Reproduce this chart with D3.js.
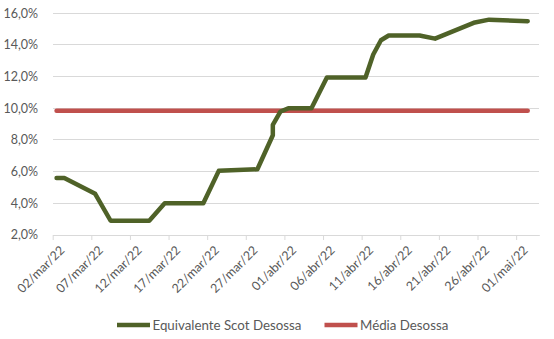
<!DOCTYPE html>
<html><head><meta charset="utf-8">
<script src="https://cdn.jsdelivr.net/npm/d3@7"></script>
<style>
html,body{margin:0;padding:0;background:#fff;}
svg{display:block;font-family:Lato,"Open Sans",sans-serif;}
</style></head>
<body>
<svg id="chart" width="554" height="339"></svg>
<script>
// ---- data ----
const dates = ["2022-03-02","2022-03-03","2022-03-07","2022-03-09","2022-03-14","2022-03-16","2022-03-21","2022-03-23","2022-03-28","2022-03-30","2022-03-30","2022-03-31","2022-04-01","2022-04-04","2022-04-06","2022-04-11","2022-04-12","2022-04-13","2022-04-14","2022-04-18","2022-04-20","2022-04-25","2022-04-27","2022-05-02"];
const scotValues = [5.6,5.6,4.6,2.9,2.9,4.0,4.0,6.05,6.15,8.3,8.95,9.8,10.0,10.0,11.95,11.95,13.4,14.3,14.6,14.6,14.4,15.4,15.6,15.5];
const mediaValue = 9.85;
const seriesNames = ["Equivalente Scot Desossa","Média Desossa"];
const tickDates = ["2022-03-02","2022-03-07","2022-03-12","2022-03-17","2022-03-22","2022-03-27","2022-04-01","2022-04-06","2022-04-11","2022-04-16","2022-04-21","2022-04-26","2022-05-01"];
const yTicks = [2,4,6,8,10,12,14,16];
const monthNames = ["jan","fev","mar","abr","mai","jun","jul","ago","set","out","nov","dez"];

(function () {
const parse = d3.utcParse("%Y-%m-%d");
const svg = d3.select("#chart");
const colGreen = "#4f6228", colRed = "#c0504d", colGrid = "#d9d9d9", colText = "#595959";
const pLeft = 52.7, pRight = 539.3, pTop = 13.3, pBottom = 235;

const x = d3.scaleUtc()
  .domain([parse("2022-03-02"), parse("2022-05-04")])
  .range([pLeft, pRight]);
const y = d3.scaleLinear().domain([2, 16]).range([pBottom, pTop]);

const mid = d => d3.utcHour.offset(parse(d), 12);
const fmtDate = d => d3.utcFormat("%d")(d) + "/" + monthNames[d.getUTCMonth()] + "/" + d3.utcFormat("%y")(d);
const fmtPct = v => v.toFixed(1).replace(".", ",") + "%";

// gridlines
svg.append("g").selectAll("line").data(yTicks).join("line")
  .attr("x1", pLeft).attr("x2", pRight)
  .attr("y1", d => y(d)).attr("y2", d => y(d))
  .attr("stroke", colGrid).attr("stroke-width", 1).attr("shape-rendering", "crispEdges");

// y labels
svg.append("g").selectAll("text").data(yTicks).join("text")
  .attr("x", 38).attr("y", d => y(d)).attr("dy", "0.35em")
  .attr("text-anchor", "end").attr("fill", colText).attr("font-size", 12.5)
  .text(fmtPct);

// x axis
const xAxis = d3.axisBottom(x)
  .tickValues(tickDates.map(parse))
  .tickSize(5).tickSizeOuter(0)
  .tickFormat(fmtDate);
const gx = svg.append("g").attr("transform", `translate(0,${pBottom})`).call(xAxis);
gx.select(".domain").attr("stroke", colGrid);
gx.selectAll(".tick line").attr("stroke", colGrid);
gx.selectAll(".tick text")
  .attr("fill", colText).attr("font-size", 12.5).attr("font-family", "Lato,'Open Sans',sans-serif")
  .attr("text-anchor", "end")
  .attr("transform", "translate(9,13) rotate(-45)")
  .attr("x", 0).attr("y", 0).attr("dy", "0.35em");

// media line
const firstD = mid(dates[0]), lastD = mid(dates[dates.length - 1]);
svg.append("line")
  .attr("x1", x(firstD)).attr("x2", x(lastD))
  .attr("y1", y(mediaValue)).attr("y2", y(mediaValue))
  .attr("stroke", colRed).attr("stroke-width", 4.5).attr("stroke-linecap", "round");

// scot line
const pts = dates.map((d, i) => ({ d: mid(d), v: scotValues[i] }));
svg.append("path").datum(pts)
  .attr("fill", "none").attr("stroke", colGreen).attr("stroke-width", 4.5)
  .attr("stroke-linejoin", "round").attr("stroke-linecap", "round")
  .attr("d", d3.line().x(p => x(p.d)).y(p => y(p.v)));

// legend
const legend = [
  { name: seriesNames[0], color: colGreen, x0: 117 },
  { name: seriesNames[1], color: colRed, x0: 324.5 }
];
const lg = svg.append("g").selectAll("g").data(legend).join("g");
lg.append("line")
  .attr("x1", d => d.x0).attr("x2", d => d.x0 + 33)
  .attr("y1", 325).attr("y2", 325)
  .attr("stroke", d => d.color).attr("stroke-width", 4.5);
lg.append("text")
  .attr("x", d => d.x0 + 35.5).attr("y", 325).attr("dy", "0.35em")
  .attr("fill", colText).attr("font-size", 13.3)
  .text(d => d.name);
})();
</script>
</body></html>
